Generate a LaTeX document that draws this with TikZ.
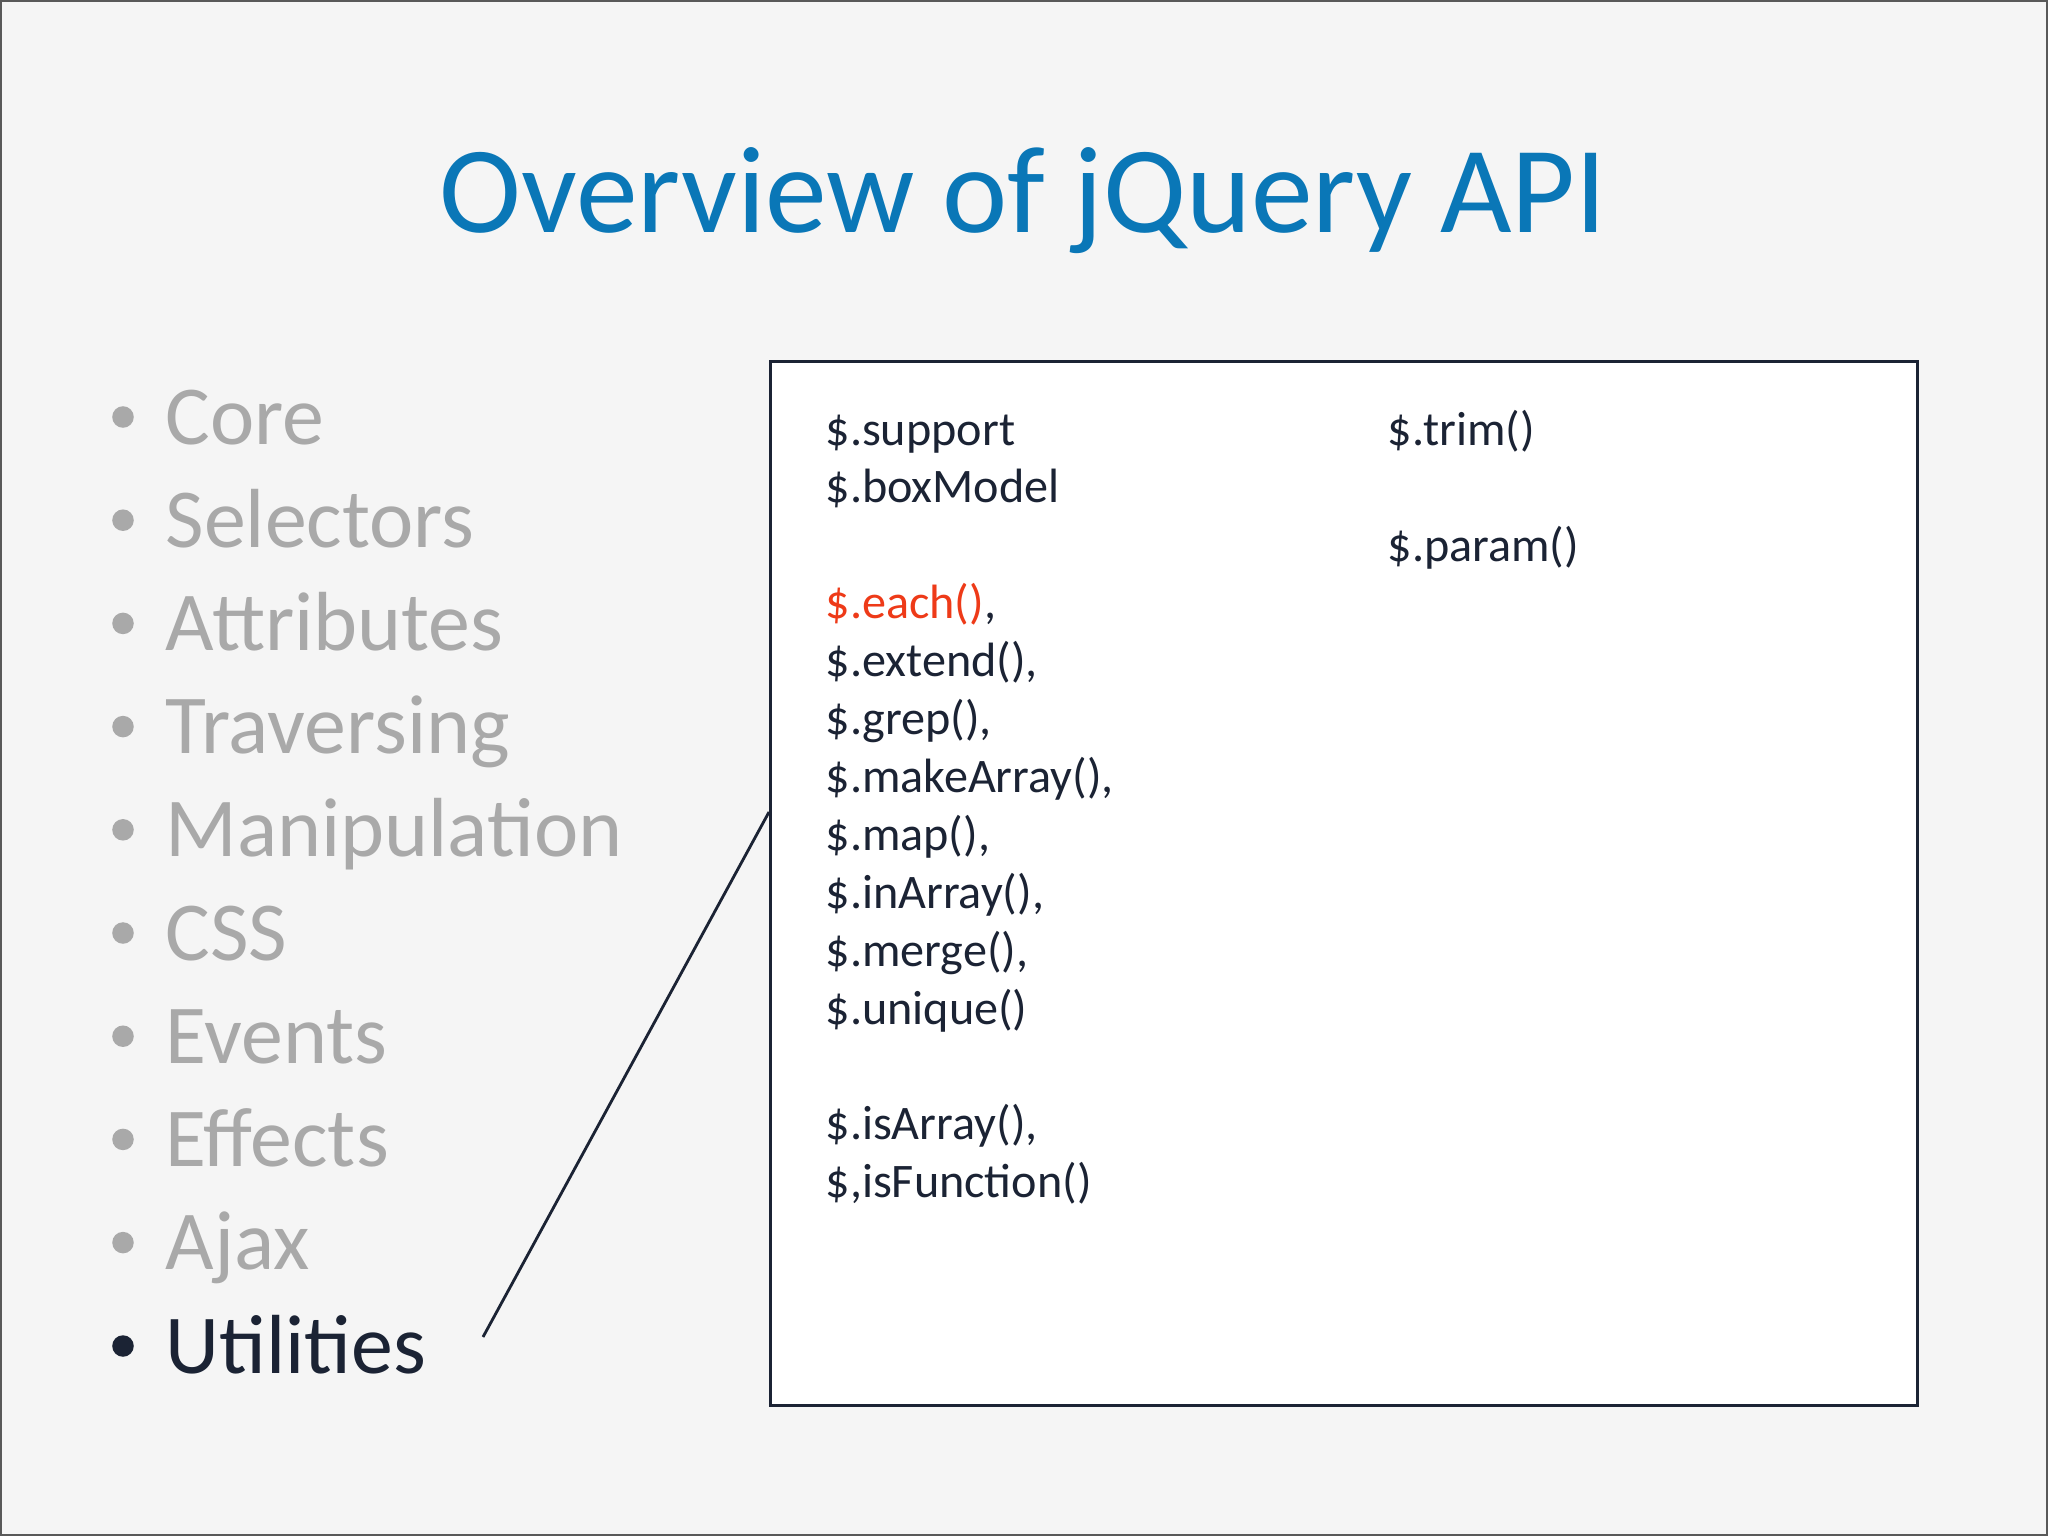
\documentclass[tikz,border=0pt]{standalone}
\usepackage{fontspec}
\setmainfont{Carlito}
\usepackage{xcolor}
\usetikzlibrary{positioning}
\definecolor{slidebg}{HTML}{F5F5F5}
\definecolor{titleblue}{HTML}{0A77B7}
\definecolor{fadegray}{HTML}{A9A9A9}
\definecolor{inkdark}{HTML}{1B2334}
\definecolor{hired}{HTML}{EE3A18}
\tikzstyle{item}=[anchor=base west,inner sep=0pt,font=\fontsize{29.6}{36}\selectfont,text=fadegray]
\tikzstyle{code}=[anchor=base west,inner sep=0pt,font=\fontsize{17}{20.4}\selectfont,text=inkdark]

\begin{document}
\begin{tikzpicture}[x=0.0124023cm,y=-0.0124023cm]
\tikzstyle{dot}=[circle,inner sep=0pt,minimum size=7.6pt]
\useasboundingbox (0,0) rectangle (2048,1536);
\draw[fill=slidebg,draw=black!65,line width=0.5pt] (1,1) rectangle (2047,1535);

\node[anchor=base,font=\fontsize{43.6}{52}\selectfont,text=titleblue] (title) at (1023,232) {Overview of jQuery API};

% topics
\foreach \topic [count=\i] in {Core,Selectors,Attributes,Traversing,Manipulation,CSS,Events,Effects,Ajax} {
  \node[item] (t\i) at (165,{444+103.2*(\i-1)}) {\topic};
  \node[dot,fill=fadegray] (d\i) at (123,{417+103.2*(\i-1)}) {};
}
\node[item,text=inkdark] (t10) at (165,1373) {Utilities};
\node[dot,fill=inkdark] (d10) at (123,1346) {};

% utilities box
\node[draw=inkdark,fill=white,line width=1.2pt,anchor=north west,inner sep=0pt,
      minimum width=14.225cm,minimum height=12.948cm] (api) at (769,360) {};
\foreach \fn/\k in {\$.support/0,\$.boxModel/1,{\textcolor{hired}{\$.each()},}/3,{\$.extend(),}/4,
  {\$.grep(),}/5,{\$.makeArray(),}/6,{\$.map(),}/7,{\$.inArray(),}/8,{\$.merge(),}/9,
  \$.unique()/10,{\$.isArray(),}/12,{\$,isFunction()}/13}
  \node[code] (c\k) at (825,{445+57.9*\k}) {\fn};
\node[code] (trim) at (1387,445) {\$.trim()};
\node[code] (param) at (1387,561) {\$.param()};

\coordinate (tip) at (483,1337);
\coordinate (hook) at (769,812);
\draw[inkdark,line width=1pt] (tip) -- (hook);
\end{tikzpicture}
\end{document}
